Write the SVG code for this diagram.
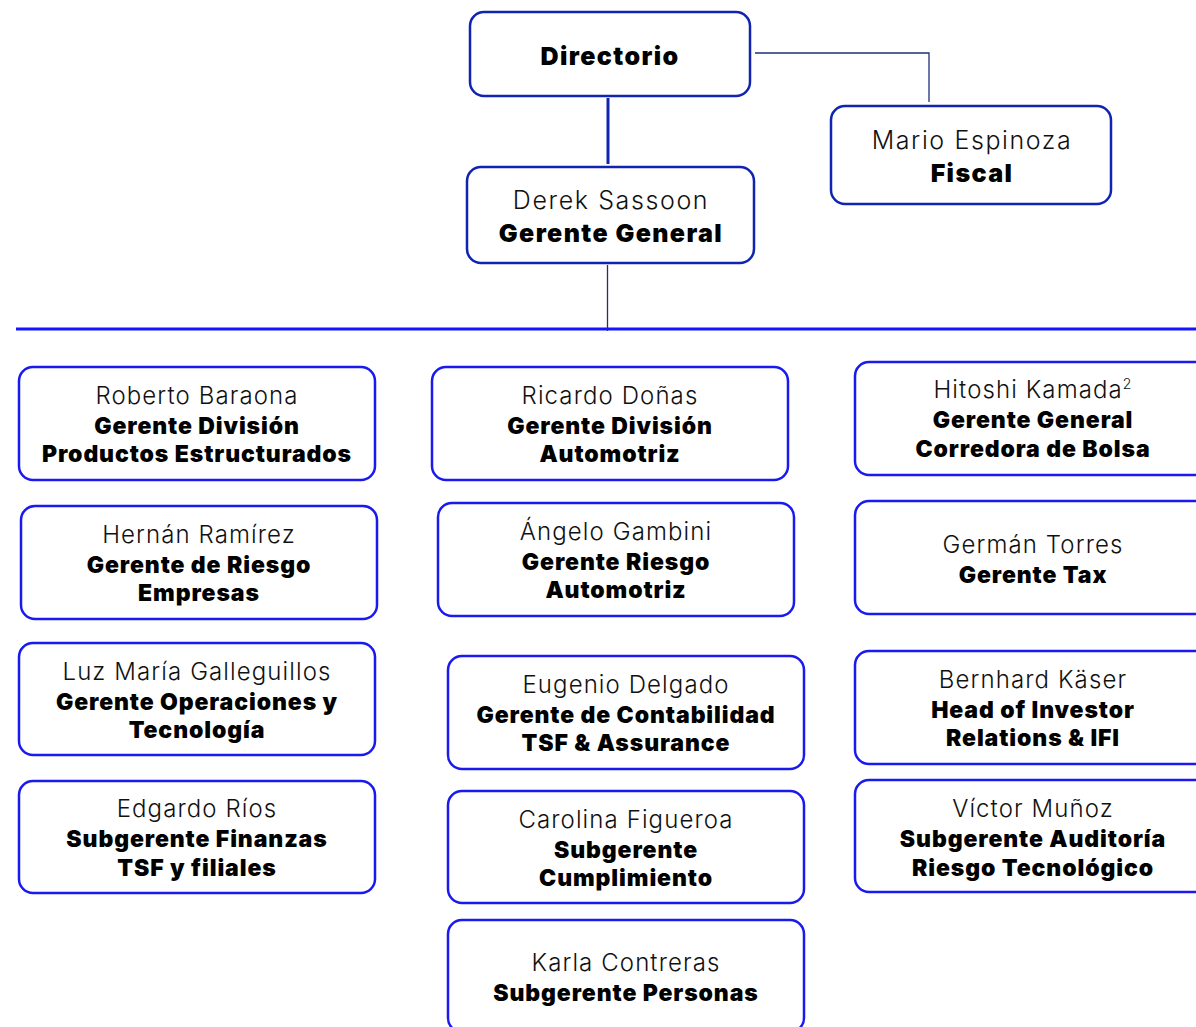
<svg xmlns="http://www.w3.org/2000/svg" width="1196" height="1027" viewBox="0 0 1196 1027">
<style>
.top{fill:#fff;stroke:#1024b0;stroke-width:2.5}
.box{fill:#fff;stroke:#1a1aee;stroke-width:2.5}
.n{font-family:Inter,"Noto Sans",sans-serif;font-weight:300;font-size:24px;letter-spacing:1.1px;fill:#111;text-anchor:middle}
.t{font-family:Inter,"Noto Sans",sans-serif;font-weight:900;font-size:23px;letter-spacing:0.9px;fill:#000;text-anchor:middle}
.bn{font-size:25px;letter-spacing:1.6px}
.bt{font-size:25px;letter-spacing:1.4px}
.c{stroke:#1f2f7a;fill:none}
</style>
<rect width="1196" height="1027" fill="#fff"/>
<g id="connectors">
<line x1="608" y1="98" x2="608" y2="164" stroke="#1024b0" stroke-width="3"/>
<polyline class="c" points="755,53 929,53 929,102" stroke-width="1.3"/>
<line x1="16" y1="329" x2="1196" y2="329" stroke="#1414ff" stroke-width="3"/>
<line class="c" x1="607.5" y1="265" x2="607.5" y2="331" stroke-width="1.3"/>
</g>
<g id="directorio"><rect class="top" x="470" y="12" width="280" height="84" rx="14"/><text class="t bt" x="610" y="65">Directorio</text></g>
<g id="fiscal"><rect class="top" x="831" y="106" width="280" height="98" rx="14"/><text class="n bn" x="972" y="149">Mario Espinoza</text><text class="t bt" x="972" y="182">Fiscal</text></g>
<g id="gerente-general"><rect class="top" x="467" y="167" width="287" height="96" rx="14"/><text class="n bn" x="611" y="209">Derek Sassoon</text><text class="t bt" x="611" y="242">Gerente General</text></g>

<g id="roberto"><rect class="box" x="19" y="367" width="356" height="113" rx="14"/><text class="n" x="197" y="404">Roberto Baraona</text><text class="t" x="197" y="434">Gerente División</text><text class="t" x="197" y="462">Productos Estructurados</text></g>
<g id="hernan"><rect class="box" x="21" y="506" width="356" height="113" rx="14"/><text class="n" x="199" y="543">Hernán Ramírez</text><text class="t" x="199" y="573">Gerente de Riesgo</text><text class="t" x="199" y="601">Empresas</text></g>
<g id="luz"><rect class="box" x="19" y="643" width="356" height="112" rx="14"/><text class="n" x="197" y="680">Luz María Galleguillos</text><text class="t" x="197" y="710">Gerente Operaciones y</text><text class="t" x="197" y="738">Tecnología</text></g>
<g id="edgardo"><rect class="box" x="19" y="781" width="356" height="112" rx="14"/><text class="n" x="197" y="817">Edgardo Ríos</text><text class="t" x="197" y="847">Subgerente Finanzas</text><text class="t" x="197" y="876">TSF y filiales</text></g>

<g id="ricardo"><rect class="box" x="432" y="367" width="356" height="113" rx="14"/><text class="n" x="610" y="404">Ricardo Doñas</text><text class="t" x="610" y="434">Gerente División</text><text class="t" x="610" y="462">Automotriz</text></g>
<g id="angelo"><rect class="box" x="438" y="503" width="356" height="113" rx="14"/><text class="n" x="616" y="540">Ángelo Gambini</text><text class="t" x="616" y="570">Gerente Riesgo</text><text class="t" x="616" y="598">Automotriz</text></g>
<g id="eugenio"><rect class="box" x="448" y="656" width="356" height="113" rx="14"/><text class="n" x="626" y="693">Eugenio Delgado</text><text class="t" x="626" y="723">Gerente de Contabilidad</text><text class="t" x="626" y="751">TSF &amp; Assurance</text></g>
<g id="carolina"><rect class="box" x="448" y="791" width="356" height="112" rx="14"/><text class="n" x="626" y="828">Carolina Figueroa</text><text class="t" x="626" y="858">Subgerente</text><text class="t" x="626" y="886">Cumplimiento</text></g>
<g id="karla"><rect class="box" x="448" y="920" width="356" height="112" rx="14"/><text class="n" x="626" y="971">Karla Contreras</text><text class="t" x="626" y="1001">Subgerente Personas</text></g>

<g id="hitoshi"><rect class="box" x="855" y="362" width="356" height="113" rx="14"/><text class="n" x="1033" y="398">Hitoshi Kamada<tspan font-size="14" dy="-9">2</tspan></text><text class="t" x="1033" y="428">Gerente General</text><text class="t" x="1033" y="457">Corredora de Bolsa</text></g>
<g id="german"><rect class="box" x="855" y="501" width="356" height="113" rx="14"/><text class="n" x="1033" y="553">Germán Torres</text><text class="t" x="1033" y="583">Gerente Tax</text></g>
<g id="bernhard"><rect class="box" x="855" y="651" width="356" height="113" rx="14"/><text class="n" x="1033" y="688">Bernhard Käser</text><text class="t" x="1033" y="718">Head of Investor</text><text class="t" x="1033" y="746">Relations &amp; IFI</text></g>
<g id="victor"><rect class="box" x="855" y="780" width="356" height="112" rx="14"/><text class="n" x="1033" y="817">Víctor Muñoz</text><text class="t" x="1033" y="847">Subgerente Auditoría</text><text class="t" x="1033" y="876">Riesgo Tecnológico</text></g>
</svg>
